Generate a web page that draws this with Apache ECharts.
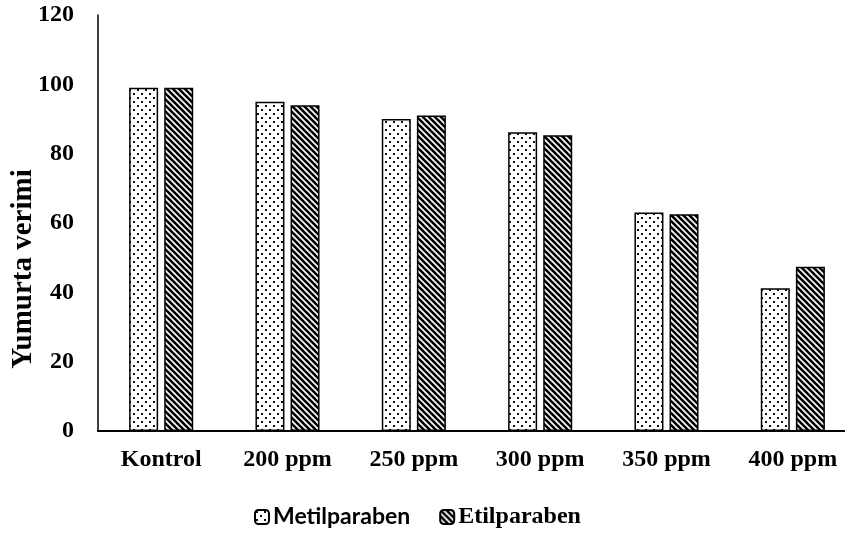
<!DOCTYPE html>
<html>
<head>
<meta charset="utf-8">
<script src="https://cdn.jsdelivr.net/npm/echarts@6/dist/echarts.min.js"></script>
<style>html,body{margin:0;padding:0;background:#fff}#c{width:845px;height:534px}</style>
</head>
<body>
<div id="c"></div>
<script>
var categories = ['Kontrol', '200 ppm', '250 ppm', '300 ppm', '350 ppm', '400 ppm'];
var metilValues = [99, 95, 90, 86.2, 63, 41.2];
var etilValues = [99, 94, 91, 85.3, 62.5, 47.4];
var seriesNames = ['Metilparaben', 'Etilparaben'];
var yAxisTitle = 'Yumurta verimi';

function dotPattern() {
  var c = document.createElement('canvas');
  c.width = 8; c.height = 8;
  var g = c.getContext('2d');
  g.fillStyle = '#fff'; g.fillRect(0, 0, 8, 8);
  g.fillStyle = '#111';
  g.fillRect(1, 1, 2, 2);
  g.fillRect(5, 5, 2, 2);
  return c;
}
function stripePattern() {
  var c = document.createElement('canvas');
  var s = 6;
  c.width = s; c.height = s;
  var g = c.getContext('2d');
  g.fillStyle = '#fff'; g.fillRect(0, 0, s, s);
  g.strokeStyle = '#000'; g.lineWidth = 2.6;
  for (var k = -1; k <= 1; k++) {
    g.beginPath();
    g.moveTo(k * s - 1, -1);
    g.lineTo(k * s + s + 1, s + 1);
    g.stroke();
  }
  return c;
}

var chart = echarts.init(document.getElementById('c'), null, {renderer: 'canvas'});
chart.setOption({
  animation: false,
  backgroundColor: '#fff',
  grid: {left: 98, right: -11, top: 15, bottom: 103, containLabel: false, outerBoundsMode: 'none'},
  legend: {
    left: 249, top: 500,
    itemWidth: 14, itemHeight: 14, itemGap: 29,
    data: [
      {name: seriesNames[0], textStyle: {fontFamily: 'Lato', fontWeight: 'bold', fontSize: 23, color: '#000'}},
      {name: seriesNames[1], textStyle: {fontFamily: 'Liberation Serif', fontWeight: 'bold', fontSize: 24, color: '#000'}}
    ],
    textStyle: {padding: [0, 0, 0, -1]}
  },
  xAxis: {
    type: 'category',
    data: categories,
    axisLine: {lineStyle: {color: '#000', width: 2}},
    axisTick: {show: false},
    axisLabel: {color: '#000', fontFamily: 'Liberation Serif', fontWeight: 'bold', fontSize: 24, margin: 17}
  },
  yAxis: {
    type: 'value', min: 0, max: 120, interval: 20,
    axisLine: {show: true, lineStyle: {color: '#000', width: 1.5}},
    axisTick: {show: false},
    splitLine: {show: false},
    axisLabel: {color: '#000', fontFamily: 'Liberation Serif', fontWeight: 'bold', fontSize: 24, margin: 24}
  },
  graphic: [{
    type: 'text', x: 24, y: 269, rotation: Math.PI / 2,
    style: {text: yAxisTitle, fill: '#000', font: 'bold 29px "Liberation Serif"', align: 'center', verticalAlign: 'middle'}
  }],
  series: [
    {name: seriesNames[0], type: 'bar', data: metilValues, barWidth: 29, barGap: '21%',
     itemStyle: {color: {image: dotPattern(), repeat: 'repeat'}, borderColor: '#000', borderWidth: 1.5}},
    {name: seriesNames[1], type: 'bar', data: etilValues, barWidth: 29,
     itemStyle: {color: {image: stripePattern(), repeat: 'repeat'}, borderColor: '#000', borderWidth: 1.5}}
  ]
});
</script>
</body>
</html>
